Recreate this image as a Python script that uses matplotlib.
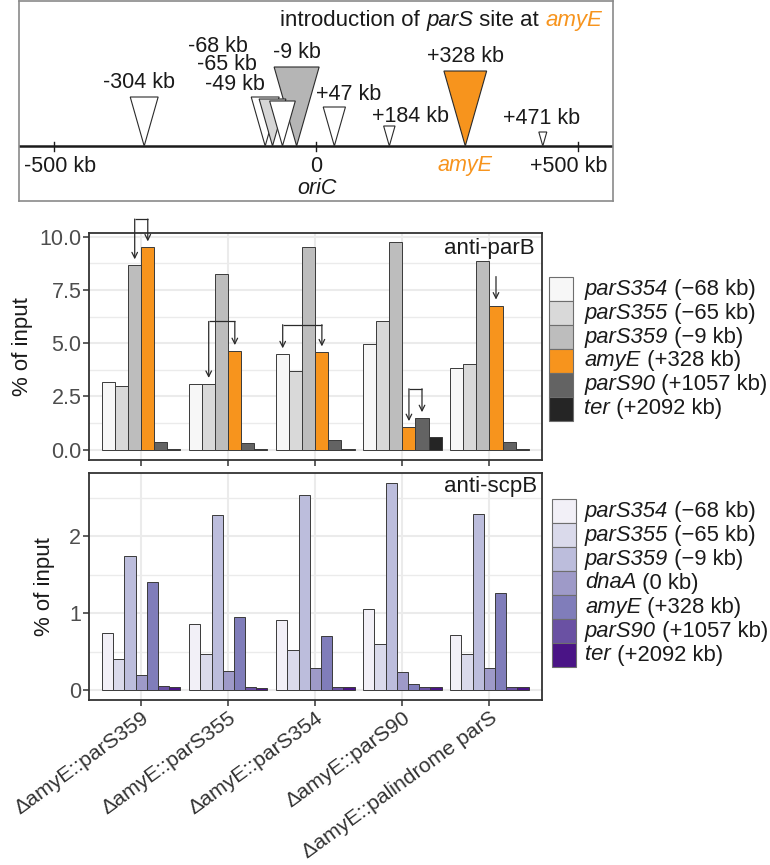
import matplotlib
matplotlib.use('Agg')
import matplotlib.pyplot as plt
from matplotlib.patches import Polygon, Rectangle
from matplotlib.ticker import MultipleLocator, FormatStrFormatter
from matplotlib.transforms import offset_copy
import numpy as np

plt.rcParams['font.family'] = ['Liberation Sans', 'DejaVu Sans']

# ---------------- data ----------------
# top schematic: parS sites (drawn position on kb scale, triangle size)
site_labels = ['-304 kb', '-68 kb', '-65 kb', '-49 kb', '-9 kb', '+47 kb', '+184 kb', '+328 kb', '+471 kb']
site_pos = [-328, -97, -83, -64, -37, 35, 140, 285, 433]
site_size = [49, 49, 47, 45, 79, 39, 20, 75, 14]
site_fill = ['#ffffff', '#ffffff', '#d6d6d6', '#ffffff', '#b5b5b5', '#ffffff', '#ffffff', '#f7941d', '#ffffff']
site_label_x = [-337, -187, -170, -155, -36, 63, 180, 286, 430]
site_label_y = [63, 99, 81, 61, 93, 52, 29, 89, 28]
scale_ticks = [-500, 0, 500]

strains = ['\u0394amyE::parS359', '\u0394amyE::parS355', '\u0394amyE::parS354',
           '\u0394amyE::parS90', '\u0394amyE::palindrome parS']

# anti-parB (% of input)
parb_names = ['parS354', 'parS355', 'parS359', 'amyE', 'parS90', 'ter']
parb_pos = ['(\u221268 kb)', '(\u221265 kb)', '(\u22129 kb)', '(+328 kb)', '(+1057 kb)', '(+2092 kb)']
parb_parS354 = [3.18, 3.09, 4.48, 4.98, 3.85]
parb_parS355 = [2.98, 3.09, 3.70, 6.04, 4.02]
parb_parS359 = [8.66, 8.24, 9.50, 9.73, 8.86]
parb_amyE = [9.50, 4.63, 4.57, 1.06, 6.77]
parb_parS90 = [0.34, 0.30, 0.44, 1.48, 0.36]
parb_ter = [0.02, 0.02, 0.05, 0.61, 0.02]
parb_colors = ['#f7f7f7', '#d9d9d9', '#bdbdbd', '#f7941d', '#636363', '#252525']

# anti-scpB (% of input)
scpb_names = ['parS354', 'parS355', 'parS359', 'dnaA', 'amyE', 'parS90', 'ter']
scpb_pos = ['(\u221268 kb)', '(\u221265 kb)', '(\u22129 kb)', '(0 kb)', '(+328 kb)', '(+1057 kb)', '(+2092 kb)']
scpb_parS354 = [0.74, 0.855, 0.907, 1.05, 0.71]
scpb_parS355 = [0.41, 0.47, 0.52, 0.60, 0.47]
scpb_parS359 = [1.75, 2.28, 2.54, 2.695, 2.285]
scpb_dnaA = [0.19, 0.25, 0.28, 0.24, 0.29]
scpb_amyE = [1.40, 0.946, 0.70, 0.073, 1.26]
scpb_parS90 = [0.05, 0.043, 0.035, 0.035, 0.035]
scpb_ter = [0.035, 0.03, 0.035, 0.035, 0.035]
scpb_colors = ['#f2f0f7', '#dadaeb', '#bcbddc', '#9e9ac8', '#807dba', '#6a51a3', '#4a1486']

# arrows in anti-parB panel: (strain index, series a, series b, bracket height)
brackets = [(0, 2, 3, 10.83), (1, 1, 3, 6.02), (2, 0, 3, 5.87), (3, 3, 4, 2.86)]
single_arrows = [(4, 3, 8.13)]

# ---------------- figure ----------------
W, H = 770, 865
fig = plt.figure(figsize=(W / 100, H / 100), dpi=100)
renderer = fig.canvas.get_renderer()


def px_axes(l, t, r, b):
    return fig.add_axes([l / W, 1 - b / H, (r - l) / W, (b - t) / H])


def text_width(ax, s, fontsize, style):
    t1 = ax.text(0, 0, '|' + s + '|', fontsize=fontsize, style=style)
    t2 = ax.text(0, 0, '||', fontsize=fontsize, style=style)
    w = t1.get_window_extent(renderer).width - t2.get_window_extent(renderer).width
    t1.remove()
    t2.remove()
    return w


def rich(ax, x, y, parts, transform, fontsize, ha='left', va='baseline', zorder=20):
    widths = [text_width(ax, s, fontsize, st) for s, st, c in parts]
    total = sum(widths)
    off = {'left': 0.0, 'right': -total, 'center': -total / 2}[ha]
    for (s, st, c), w in zip(parts, widths):
        ax.text(x, y, s, fontsize=fontsize, style=st, color=c, ha='left', va=va, zorder=zorder,
                transform=offset_copy(transform, fig=fig, x=off, y=0, units='dots'))
        off += w


FS = 15.5
ORANGE = '#f7941d'
TXT = '#1a1a1a'

# ---- top schematic ----
ax0 = px_axes(19, 1, 613, 201)
ax0.set_xlim(-567, 567)
ax0.set_ylim(-55, 145)
ax0.set_xticks([])
ax0.set_yticks([])
for s in ax0.spines.values():
    s.set_color('#8a8a8a')
    s.set_linewidth(1.2)
ax0.axhline(0, color=TXT, lw=1.8, zorder=1)
for t in scale_ticks:
    ax0.plot([t, t], [-4.5, 4.5], color=TXT, lw=1.0, zorder=1)
kb_per_px = 1134 / 594
order = [4, 0, 1, 2, 3, 5, 6, 7, 8]
for k, i in enumerate(order):
    x, h = site_pos[i], site_size[i]
    w = 0.57 * h * kb_per_px
    ax0.add_patch(Polygon([(x - w / 2, h), (x + w / 2, h), (x, 0)], closed=True,
                          facecolor=site_fill[i], edgecolor='#2b2b2b', lw=0.8, zorder=2 + k))
for i, lab in enumerate(site_labels):
    ax0.text(site_label_x[i], site_label_y[i], lab, ha='center', va='center', fontsize=FS, color=TXT, zorder=20)
ax0.text(-489, -20, '-500 kb', ha='center', va='center', fontsize=FS, color=TXT)
ax0.text(0, -20, '0', ha='center', va='center', fontsize=FS, color=TXT)
ax0.text(site_pos[7], -20, 'amyE', style='italic', ha='center', va='center', fontsize=FS, color=ORANGE)
ax0.text(483, -20, '+500 kb', ha='center', va='center', fontsize=FS, color=TXT)
ax0.text(2, -43, 'oriC', style='italic', ha='center', va='center', fontsize=FS, color=TXT)
rich(ax0, 546, 120, [('introduction of ', 'normal', TXT), ('parS', 'italic', TXT),
                     (' site at ', 'normal', TXT), ('amyE', 'italic', ORANGE)],
     ax0.transData, 16, ha='right')


# ---- bar panels ----
def style_panel(ax, ylim, major, minor):
    ax.set_xlim(0.4, 5.6)
    ax.set_ylim(*ylim)
    ax.set_axisbelow(True)
    ax.yaxis.set_major_locator(MultipleLocator(major))
    ax.yaxis.set_minor_locator(MultipleLocator(minor))
    ax.set_xticks(np.arange(1, 6))
    ax.grid(which='major', color='#ebebeb', lw=1.5)
    ax.grid(which='minor', axis='y', color='#ebebeb', lw=1.0)
    for s in ax.spines.values():
        s.set_color('#333333')
        s.set_linewidth(1.3)
    ax.tick_params(which='major', length=4, width=1.1, color='#333333', labelsize=FS,
                   labelcolor='#4d4d4d', pad=1.5)
    ax.tick_params(which='minor', length=0)
    ax.set_ylabel('% of input', fontsize=16, color=TXT)


def draw_bars(ax, series, colors):
    n = len(series)
    w = 0.9 / n
    x = np.arange(1, 6)
    centers = []
    for i, (vals, c) in enumerate(zip(series, colors)):
        xc = x + (i - (n - 1) / 2) * w
        centers.append(xc)
        ax.bar(xc, vals, width=w, color=c, edgecolor='#3a3a3a', linewidth=0.7, zorder=3)
    return centers


def draw_legend(ax, names, pos, colors, x0, top, rowh, xt):
    for i, (nm, p, c) in enumerate(zip(names, pos, colors)):
        y = top + i * rowh
        ax.add_patch(Rectangle((x0, y), 24, rowh, facecolor=c, edgecolor='#6e6e6e', lw=0.8))
        rich(ax, xt, y + rowh / 2 + 5.5, [(nm, 'italic', TXT), (' ' + p, 'normal', TXT)],
             ax.transData, 15.8)


ax1 = px_axes(89, 232.7, 541.7, 460)
parb_series = [parb_parS354, parb_parS355, parb_parS359, parb_amyE, parb_parS90, parb_ter]
c1 = draw_bars(ax1, parb_series, parb_colors)
style_panel(ax1, (-0.485, 10.19), 2.5, 1.25)
ax1.yaxis.set_major_formatter(FormatStrFormatter('%.1f'))
ax1.set_xticklabels([])
ax1.yaxis.set_label_coords(-0.1244, 0.5)
ax1.text(0.985, 0.931, 'anti-parB', transform=ax1.transAxes, ha='right', va='center',
         fontsize=16, color=TXT)

AC = '#2b2b2b'
OFF = 0.28


def arrow(ax, x, y0, y1):
    ax.annotate('', xy=(x, y1), xytext=(x, y0), annotation_clip=False,
                arrowprops=dict(arrowstyle='->', color=AC, lw=0.9, shrinkA=0, shrinkB=0,
                                mutation_scale=10), zorder=6)


for g, a, b, by in brackets:
    xa, xb = c1[a][g], c1[b][g]
    ax1.plot([xa, xb], [by, by], color=AC, lw=0.9, clip_on=False, zorder=6,
             solid_capstyle='butt')
    arrow(ax1, xa, by, parb_series[a][g] + OFF)
    arrow(ax1, xb, by, parb_series[b][g] + OFF)
for g, a, y0 in single_arrows:
    arrow(ax1, c1[a][g], y0, parb_series[a][g] + OFF)

ax2 = px_axes(89, 473.3, 541.7, 700)
scpb_series = [scpb_parS354, scpb_parS355, scpb_parS359, scpb_dnaA, scpb_amyE, scpb_parS90, scpb_ter]
draw_bars(ax2, scpb_series, scpb_colors)
style_panel(ax2, (-0.13, 2.82), 1, 0.5)
ax2.set_yticks([0, 1, 2])
ax2.set_yticklabels(['0', '1', '2'])
ax2.set_xticks(np.arange(1, 6))
ax2.set_xticklabels(strains, rotation=36, ha='right', va='top', rotation_mode='anchor',
                    fontsize=15.3, color='#333333')
ax2.tick_params(axis='x', pad=2.0, labelcolor='#333333')
ax2.yaxis.set_label_coords(-0.0751, 0.5)
ax2.text(0.989, 0.941, 'anti-scpB', transform=ax2.transAxes, ha='right', va='center',
         fontsize=16, color=TXT)

# overlay for legends (pixel coordinates)
axo = fig.add_axes([0, 0, 1, 1])
axo.set_xlim(0, W)
axo.set_ylim(H, 0)
axo.axis('off')
axo.patch.set_alpha(0)
draw_legend(axo, parb_names, parb_pos, parb_colors, 549.3, 277.3, 23.9, 584.3)
draw_legend(axo, scpb_names, scpb_pos, scpb_colors, 551.7, 499, 24.0, 585)

fig.savefig('out.png', dpi=100)
